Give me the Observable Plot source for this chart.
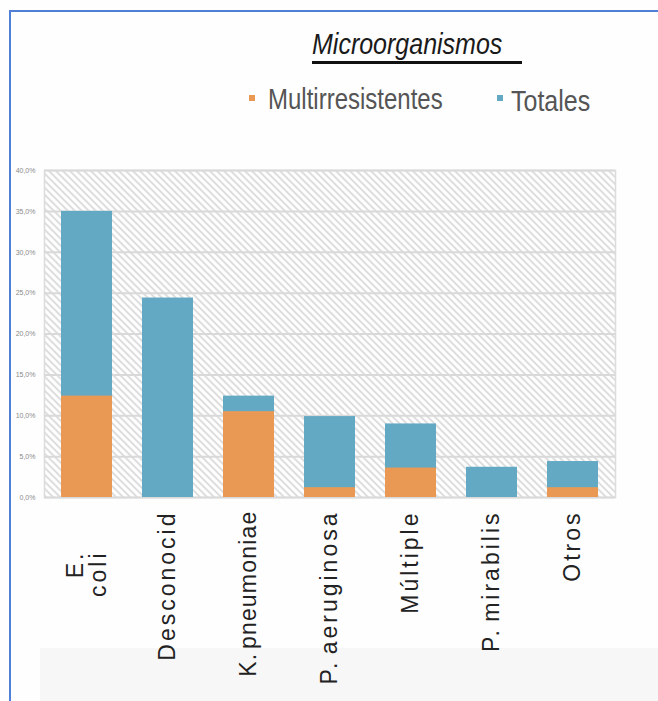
<!DOCTYPE html>
<html>
<head>
<meta charset="utf-8">
<script src="https://cdn.jsdelivr.net/npm/d3@7"></script>
<script src="https://cdn.jsdelivr.net/npm/@observablehq/plot@0.6"></script>
<style>
  html, body { margin: 0; padding: 0; background: #fefefe; }
  #wrap { position: relative; width: 658px; height: 701px; overflow: hidden; background: #fefefe; font-family: "Liberation Sans", Arial, sans-serif; }
  #frameTop { position: absolute; left: 9px; top: 10px; width: 649px; height: 2px; background: #4f7fd6; }
  #frameLeft { position: absolute; left: 9px; top: 10px; width: 2px; height: 691px; background: #4f7fd6; }
  #band { position: absolute; left: 40px; top: 648px; width: 618px; height: 53px; background: #f7f7f7; }
  #title { position: absolute; left: 312px; top: 26px; font: italic 25px "Liberation Sans", Arial, sans-serif; color: #1a1a1a; transform: scaleY(1.2); transform-origin: left top; white-space: pre; }
  #uline { position: absolute; left: 312px; top: 61px; width: 210px; height: 3px; background: #111; }
  .leg { position: absolute; top: 83px; font: 24px "Liberation Sans", Arial, sans-serif; color: #555; transform: scaleY(1.2); transform-origin: left top; white-space: nowrap; }
  .sw { position: absolute; width: 6px; height: 6px; }
  #plot { position: absolute; left: 0; top: 150px; }
  #plot g[aria-label="x-axis tick label"] text { letter-spacing: 3px; word-spacing: -4px; }
  #plot g[aria-label="x-axis tick label"] text:nth-child(3) { letter-spacing: 1.2px; }
</style>
</head>
<body>
<div id="wrap">
  <div id="band"></div>
  <div id="frameTop"></div>
  <div id="frameLeft"></div>
  <div id="title"></div>
  <div id="uline"></div>
  <div id="plot"></div>
</div>
<script>
// ---- data ----
const categories = ["E. coli", "Desconocido", "K. pneumoniae", "P. aeruginosa", "Múltiple", "P. mirabilis", "Otros"];
const tickLabels = ["E.\ncoli", "Desconocid", "K. pneumoniae", "P. aeruginosa", "Múltiple", "P. mirabilis", "Otros"];
const totales = [35.0, 24.4, 12.4, 9.9, 9.0, 3.7, 4.4];
const multirresistentes = [12.4, 0, 10.5, 1.2, 3.6, 0, 1.2];
const yTicks = [0, 5, 10, 15, 20, 25, 30, 35, 40];
const seriesNames = ["Multirresistentes", "Totales"];
const titleText = "Microorganismos ";

const colorTotales = "#64a9c4";
const colorMulti = "#e99953";

// ---- header ----
document.getElementById("title").textContent = titleText;
const wrap = document.getElementById("wrap");
const legendItems = [
  {name: seriesNames[0], color: colorMulti, sx: 249, tx: 268, fs: 24},
  {name: seriesNames[1], color: colorTotales, sx: 497, tx: 511, fs: 25}
];
legendItems.forEach(it => {
  const sw = document.createElement("div");
  sw.className = "sw";
  sw.style.left = it.sx + "px";
  sw.style.top = "95px";
  sw.style.background = it.color;
  wrap.appendChild(sw);
  const t = document.createElement("div");
  t.className = "leg";
  t.style.left = it.tx + "px";
  t.style.fontSize = it.fs + "px";
  t.textContent = it.name;
  wrap.appendChild(t);
});

const rows = categories.map((c, i) => ({cat: c, total: totales[i], multi: multirresistentes[i]}));
const labelOf = new Map(categories.map((c, i) => [c, tickLabels[i]]));
const fmt = v => v.toFixed(1).replace(".", ",") + "%";

const chart = Plot.plot({
  width: 658,
  height: 551,
  marginTop: 20,
  marginBottom: 204,
  marginLeft: 44,
  marginRight: 43,
  style: {background: "transparent", fontFamily: "'Liberation Sans', Arial, sans-serif", overflow: "visible"},
  x: {domain: categories, paddingInner: 0.37, paddingOuter: 0.2, label: null},
  y: {domain: [0, 40], label: null},
  marks: [
    Plot.frame({fill: "url(#hatch)", stroke: "#dcdcdc", strokeWidth: 1.5}),
    Plot.gridY(yTicks, {stroke: "#d9d9d9", strokeOpacity: 1, strokeWidth: 2}),
    Plot.barY(rows, {x: "cat", y: "total", fill: colorTotales}),
    Plot.barY(rows, {x: "cat", y: "multi", fill: colorMulti}),
    Plot.axisY(yTicks, {tickSize: 0, tickPadding: 9, fontSize: 7, fill: "#8a8a8a", tickFormat: fmt, label: null}),
    Plot.axisX({tickSize: 0, tickRotate: -90, tickPadding: 13, fontSize: 23, fill: "#222", tickFormat: d => labelOf.get(d), label: null})
  ]
});

const svg = d3.select(chart);
const pat = svg.insert("defs", ":first-child")
  .append("pattern")
  .attr("id", "hatch")
  .attr("patternUnits", "userSpaceOnUse")
  .attr("width", 7)
  .attr("height", 7);
pat.append("rect").attr("width", 7).attr("height", 7).attr("fill", "#ffffff");
pat.append("path")
  .attr("d", "M0,0L7,7M-3.5,3.5L3.5,10.5M3.5,-3.5L10.5,3.5")
  .attr("stroke", "#cbcbcb")
  .attr("stroke-width", 1.3);

// the wrapped "E. coli" label sits lower in the original, next to its bar's base
svg.select('g[aria-label="x-axis tick label"] text:nth-child(1)')
  .attr("transform", function() { return d3.select(this).attr("transform") + " translate(-40,0)"; });

document.getElementById("plot").appendChild(chart);
</script>
</body>
</html>
